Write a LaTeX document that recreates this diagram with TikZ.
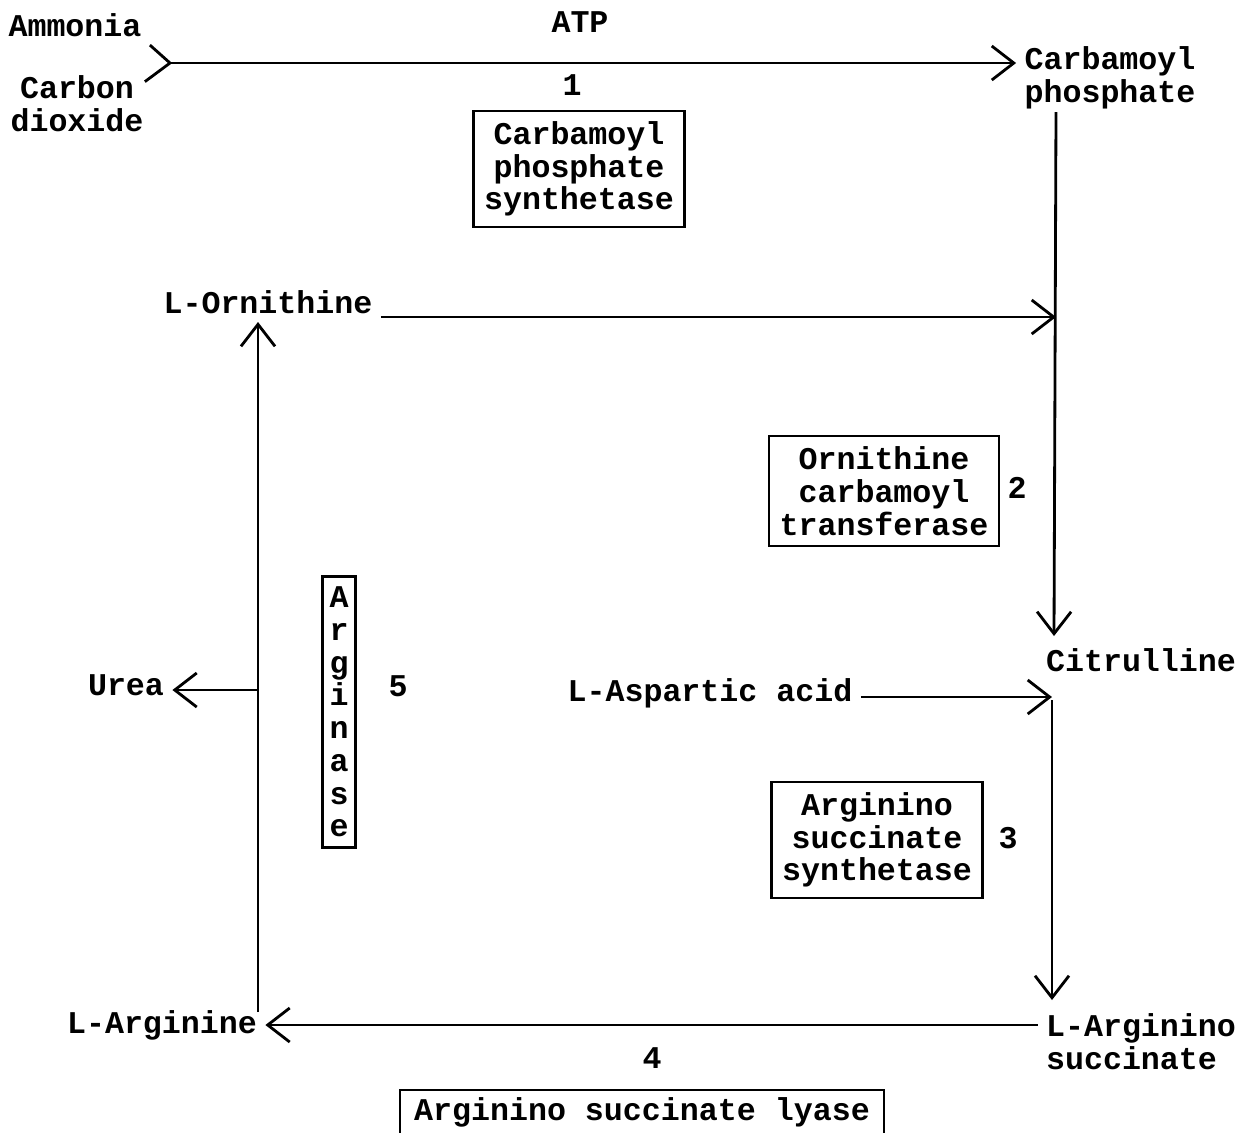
\documentclass[tikz,border=0pt]{standalone}
\usepackage{fontspec}
\setmonofont{Liberation Mono}
\usepackage{tikz}
\usetikzlibrary{arrows.meta,calc,positioning}

\tikzset{
  lbl/.style={font=\ttfamily\bfseries\fontsize{9}{9.3}\selectfont, inner sep=2pt, align=center},
  enzbox/.style={lbl, draw, line width=0.7pt, inner xsep=3pt, inner ysep=3pt},
  arr/.style={-{Straight Barb[length=2.2mm,width=3.4mm,line width=0.8pt]}}
}

\begin{document}
\begin{tikzpicture}[x=0.01cm,y=-0.01cm,line width=0.8pt]
  \useasboundingbox (0,0) rectangle (1245,1132);
  % Step 1: ammonia + CO2 -> carbamoyl phosphate
  \node[lbl] (amm) at (75,25) {Ammonia};
  \node[lbl] (co2) at (77,104) {Carbon\\dioxide};
  \coordinate (jn) at (170,63);
  \node[lbl] (carbP) at (1110,78) {Carbamoyl\\phosphate};
  \draw (amm.south east) -- (jn);
  \draw ([xshift=-2pt,yshift=-4pt]co2.north east) -- (jn);
  \draw[arr] (jn) -- (jn -| carbP.west);
  \node[lbl] (atp) at (580,22) {ATP};
  \node[lbl] (n1) at (572,85) {1};
  \node[enzbox] (cps) at (579,169) {Carbamoyl\\phosphate\\synthetase};

  % Step 2: ornithine -> citrulline
  \node[lbl] (orn) at (268,302) {L-Ornithine};
  \node[lbl] (cit) at (1141,660) {Citrulline};
  \coordinate (cpS) at (1056,112);
  \coordinate (citN) at (1054,636);
  \coordinate (ornEnd) at (1056,317);
  \draw[arr] (cpS) -- (citN);
  \draw[arr] (orn.east |- ornEnd) -- (ornEnd);
  \node[enzbox] (oct) at (884,491) {Ornithine\\carbamoyl\\transferase};
  \node[lbl] (n2) at (1017,488) {2};

  % Step 3: citrulline + aspartate -> argininosuccinate
  \node[lbl] (asp) at (710,693) {L-Aspartic acid};
  \node[lbl, align=left] (asuc) at (1141,1042) {L-Arginino\\succinate};
  \coordinate (aspEnd) at (1052,697);
  \coordinate (citS) at (1052,700);
  \coordinate (asucN) at (1052,1000);
  \draw[arr] (asp.east |- aspEnd) -- (aspEnd);
  \draw[arr] (citS) -- (asucN);
  \node[enzbox] (ass) at (877,840) {Arginino\\succinate\\synthetase};
  \node[lbl] (n3) at (1008,838) {3};

  % Step 4: argininosuccinate -> arginine
  \node[lbl] (arg) at (162,1025) {L-Arginine};
  \draw[arr] (asuc.west |- arg.east) -- (arg.east);
  \node[lbl] (n4) at (652,1058) {4};
  \node[enzbox, inner xsep=4pt, inner ysep=2pt] (asl) at (642,1112) {Arginino succinate lyase};

  % Step 5: arginine -> ornithine + urea
  \coordinate (lb) at (258,1012);
  \coordinate (lt) at (258,322);
  \coordinate (ureaJ) at (258,690);
  \node[lbl] (urea) at (126,685) {Urea};
  \draw[arr] (lb) -- (lt);
  \draw[arr] (ureaJ) -- (ureaJ -| urea.east);
  \node[enzbox, inner xsep=2pt] (argase) at (339,712) {A\\r\\g\\i\\n\\a\\s\\e};
  \node[lbl] (n5) at (398,686) {5};
\end{tikzpicture}
\end{document}
